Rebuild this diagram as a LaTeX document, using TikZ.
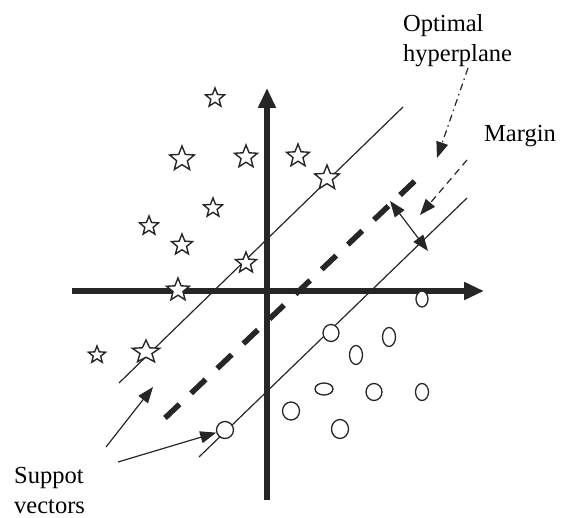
\documentclass[tikz,border=0pt]{standalone}
\usepackage{fontspec}
\setmainfont{Liberation Serif}
\usetikzlibrary{shapes.geometric,arrows.meta,positioning}

\begin{document}
\begin{tikzpicture}[
  x=1pt, y=-1pt,
  lbl/.style={font=\fontsize{24.5}{30}\selectfont,align=left,inner sep=0pt},
  axis/.style={line width=5.5pt,draw=black!85,-{Triangle[length=20pt,width=17pt]}},
  bound/.style={line width=1.2pt,draw=black!85},
  hyper/.style={line width=5.5pt,draw=black!85,dash pattern=on 20pt off 16pt},
  pointer/.style={line width=1.2pt,draw=black!85,-{Triangle[length=16pt,width=12pt]}},
  starpt/.style={star,star points=5,star point ratio=2.3,draw=black!85,
    line width=1.4pt,fill=white,minimum size=22pt,inner sep=0pt},
  ringpt/.style={ellipse,draw=black!85,line width=1.3pt,fill=white,
    minimum width=16pt,minimum height=16pt,inner sep=0pt}
]
\useasboundingbox (0,0) rectangle (565,518);

% axes
\coordinate (xstart) at (72,291);
\coordinate (xend) at (484,291);
\coordinate (ystart) at (267,500);
\coordinate (yend) at (267,88);
\draw[axis] (xstart) -- (xend);
\draw[axis] (ystart) -- (yend);

% margin lines and hyperplane
\coordinate (upperA) at (119,383);
\coordinate (upperB) at (403,107);
\coordinate (lowerA) at (199,457);
\coordinate (lowerB) at (467,198);
\coordinate (hypA) at (165,418);
\coordinate (hypB) at (418,178);
\draw[bound] (upperA) -- (upperB);
\draw[bound] (lowerA) -- (lowerB);
\draw[hyper] (hypA) -- (hypB);

% class one
\node[starpt,minimum size=20pt] (s1) at (215,98) {};
\node[starpt,minimum size=26pt] (s2) at (182,159) {};
\node[starpt,minimum size=24pt] (s3) at (246,157) {};
\node[starpt,minimum size=24pt] (s4) at (298,156) {};
\node[starpt,minimum size=26pt] (s5) at (327,178) {};
\node[starpt,minimum size=20pt] (s6) at (213,208) {};
\node[starpt,minimum size=20pt] (s7) at (149,226) {};
\node[starpt,minimum size=22pt] (s8) at (182,245) {};
\node[starpt,minimum size=22pt] (s9) at (246,263) {};
\node[starpt,minimum size=24pt] (s10) at (178,290) {};
\node[starpt,minimum size=18pt] (s11) at (97,355) {};
\node[starpt,minimum size=24pt,xscale=1.2] (s12) at (146,352) {};

% class two
\node[ringpt,minimum width=12pt,minimum height=16pt] (c1) at (422,299) {};
\node[ringpt,minimum width=16pt,minimum height=17pt] (c2) at (331,333) {};
\node[ringpt,minimum width=13pt,minimum height=19pt] (c3) at (389,337) {};
\node[ringpt,minimum width=13pt,minimum height=19pt] (c4) at (356,355) {};
\node[ringpt,minimum width=18pt,minimum height=12pt] (c5) at (324,389) {};
\node[ringpt,minimum width=16pt,minimum height=17pt] (c6) at (374,392) {};
\node[ringpt,minimum width=13pt,minimum height=17pt] (c7) at (422,392) {};
\node[ringpt,minimum width=17pt,minimum height=18pt] (c8) at (291,411) {};
\node[ringpt,minimum width=17pt,minimum height=19pt] (c9) at (340,429) {};
\node[ringpt,minimum width=17pt,minimum height=17pt] (c10) at (225,430) {};

% labels
\node[lbl,anchor=north west] (optimal) at (403,14) {Optimal\\hyperplane};
\node[lbl,anchor=base west] (margin) at (484,142) {Margin};
\node[lbl,anchor=north west] (support) at (14,467) {Suppot\\vectors};

% pointers
\coordinate (optTail) at (468,68);
\coordinate (optTip) at (437,158);
\coordinate (marTail) at (467,160);
\coordinate (marTip) at (420,215);
\coordinate (gapTop) at (390,201);
\coordinate (gapBot) at (428,251);
\coordinate (svTail1) at (106,447);
\coordinate (svTip1) at (153,387);
\coordinate (svTail2) at (118,462);
\draw[pointer,dash pattern=on 7pt off 4pt on 1.5pt off 4pt] (optTail) -- (optTip);
\draw[pointer,dash pattern=on 7pt off 5pt] (marTail) -- (marTip);
\draw[pointer,{Triangle[length=16pt,width=12pt]}-{Triangle[length=16pt,width=12pt]}] (gapTop) -- (gapBot);
\draw[pointer] (svTail1) -- (svTip1);
\draw[pointer] (svTail2) -- (c10);
\end{tikzpicture}
\end{document}
